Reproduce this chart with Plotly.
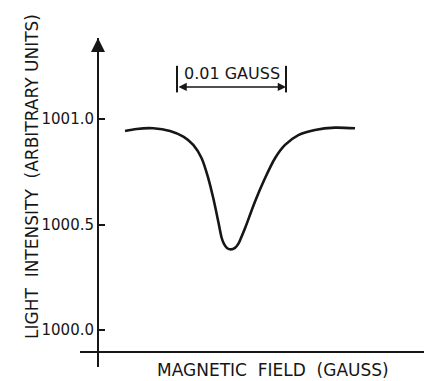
import plotly.graph_objects as go

# Light intensity across a magnetic-field sweep (relative field, gauss)
field_g = [0.00248, 0.00355, 0.00507, 0.00661, 0.00783, 0.00874, 0.00951,
           0.01012, 0.01058, 0.01104, 0.01135, 0.01156, 0.01183, 0.01220,
           0.01257, 0.01287, 0.01312, 0.01349, 0.01440, 0.01532, 0.01624,
           0.01716, 0.01838, 0.01991, 0.02174, 0.02358]
intensity = [1000.943, 1000.953, 1000.956, 1000.943, 1000.916, 1000.877,
             1000.814, 1000.719, 1000.624, 1000.513, 1000.436, 1000.408,
             1000.389, 1000.382, 1000.389, 1000.408, 1000.436, 1000.482,
             1000.608, 1000.719, 1000.814, 1000.877, 1000.924, 1000.948,
             1000.959, 1000.956]

y_ticks = [1000.0, 1000.5, 1001.0]
y_tick_labels = ["1000.0", "1000.5", "1001.0"]

# Scale bar: 0.01 gauss
scale_start = 0.00725
scale_span = 0.01
scale_label = "0.01 GAUSS"
scale_y = 1001.152
scale_bar_lo, scale_bar_hi = 1001.126, 1001.252
scale_text_y = 1001.216

x_range = [-0.00165, 0.02991]
y_range = [999.8246, 1001.3839]

INK = "#161616"
FONT = "DejaVu Sans"

fig = go.Figure()
fig.add_trace(go.Scatter(
    x=field_g, y=intensity, mode="lines",
    line=dict(color=INK, width=2.6, shape="spline", smoothing=0.8),
    hoverinfo="skip", showlegend=False,
))

# vertical end bars of the scale bar
for xv in (scale_start, scale_start + scale_span):
    fig.add_shape(type="line", xref="x", yref="y",
                  x0=xv, x1=xv, y0=scale_bar_lo, y1=scale_bar_hi,
                  line=dict(color=INK, width=2))

# double-headed arrow between the bars
fig.add_annotation(
    x=scale_start + scale_span, y=scale_y,
    ax=scale_start, ay=scale_y, axref="x", ayref="y",
    xref="x", yref="y", text="", showarrow=True,
    arrowhead=2, startarrowhead=2, arrowside="end+start",
    arrowsize=1.1, startarrowsize=1.1, arrowwidth=1.5, arrowcolor=INK,
    standoff=0, startstandoff=0,
)
fig.add_annotation(
    x=scale_start + scale_span / 2, y=scale_text_y, xref="x", yref="y",
    xanchor="center", yanchor="middle",
    text=scale_label, showarrow=False,
    font=dict(family=FONT, size=16, color=INK),
)

# arrowhead on top of the intensity axis
fig.add_annotation(
    x=98 / 424, y=(381 - 38) / 381, xref="paper", yref="paper",
    ax=0, ay=14, text="", showarrow=True,
    arrowhead=2, arrowsize=1.4, arrowwidth=2, arrowcolor=INK, standoff=0,
)

# axis titles
fig.add_annotation(
    x=32 / 424, y=(381 - 177) / 381, xref="paper", yref="paper",
    xanchor="center", yanchor="middle",
    text="LIGHT\u00a0\u00a0INTENSITY\u00a0\u00a0(ARBITRARY\u00a0UNITS)",
    textangle=-90, showarrow=False,
    font=dict(family=FONT, size=17, color=INK),
)
fig.add_annotation(
    x=273 / 424, y=(381 - 370) / 381, xref="paper", yref="paper",
    xanchor="center", yanchor="middle",
    text="MAGNETIC\u00a0\u00a0FIELD\u00a0\u00a0(GAUSS)",
    showarrow=False,
    font=dict(family=FONT, size=17, color=INK),
)

fig.update_layout(
    template="none",
    width=424, height=381,
    margin=dict(l=0, r=0, t=0, b=0),
    paper_bgcolor="white", plot_bgcolor="white",
    showlegend=False,
    xaxis=dict(
        domain=[80 / 424, 1], range=x_range,
        anchor="free", position=(381 - 352) / 381,
        showline=True, linecolor=INK, linewidth=2,
        showticklabels=False, ticks="", showgrid=False, zeroline=False,
        automargin=False, fixedrange=True,
    ),
    yaxis=dict(
        domain=[14 / 381, (381 - 38) / 381], range=y_range,
        anchor="free", position=98 / 424,
        showline=True, linecolor=INK, linewidth=2,
        tickvals=y_ticks, ticktext=y_tick_labels,
        ticks="inside", ticklen=6, tickwidth=2, tickcolor=INK,
        tickfont=dict(family=FONT, size=15, color=INK),
        showgrid=False, zeroline=False, automargin=False, fixedrange=True,
    ),
)

fig.write_html("out.html")
